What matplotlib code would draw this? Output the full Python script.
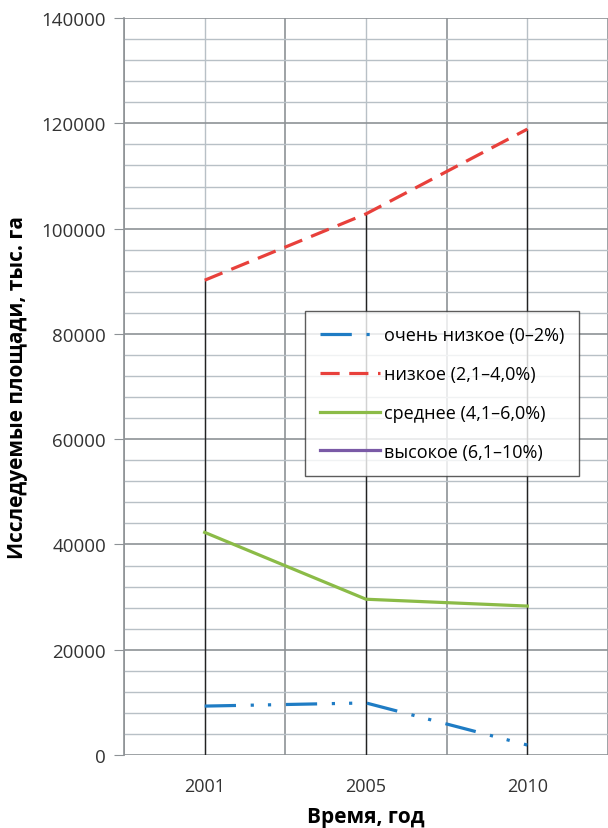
import numpy as np
import matplotlib.pyplot as plt
from matplotlib.ticker import MultipleLocator

plt.rcParams['font.family'] = ['Open Sans', 'DejaVu Sans']

# --- данные ---
years = ["2001", "2005", "2010"]
very_low = [9300, 9900, 1900]
low = [90200, 102800, 118900]
medium = [42300, 29600, 28300]
high = [np.nan, np.nan, np.nan]

labels = ["очень низкое (0–2%)", "низкое (2,1–4,0%)",
          "среднее (4,1–6,0%)", "высокое (6,1–10%)"]

fig = plt.figure(figsize=(6.08, 8.29), dpi=100)
ax = fig.add_axes([0.204, 0.088, 0.796, 0.889])
x = np.arange(len(years))

# --- сетка ---
ax.set_xlim(-0.5, 2.5)
ax.set_ylim(0, 140000)
ax.yaxis.set_major_locator(MultipleLocator(20000))
ax.yaxis.set_minor_locator(MultipleLocator(4000))
ax.grid(which="major", axis="y", color="#8e9296", lw=1.2)
ax.grid(which="minor", axis="y", color="#b8c0c6", lw=1.0)
for xb in np.arange(-0.5, 2.6, 1.0):
    ax.axvline(xb, color="#8e9296", lw=1.2, zorder=0.5)
for xc in x:
    ax.axvline(xc, color="#b8c0c6", lw=1.0, zorder=0.5)
ax.set_axisbelow(True)

# --- линии от нуля до максимума ---
tops = np.nanmax(np.vstack([very_low, low, medium]), axis=0)
ax.vlines(x, 0, tops, color="#222222", lw=1.0, zorder=1)

# --- ряды ---
lw = 2.3
ax.plot(x, very_low, color="#1f7cc4", lw=lw,
        linestyle=(0, (9.8, 4.6, 1.0, 4.4, 1.0, 4.6)), label=labels[0], zorder=3)
ax.plot(x, low, color="#e8403b", lw=lw,
        linestyle=(0, (6, 3)), label=labels[1], zorder=3)
ax.plot(x, medium, color="#8bbb47", lw=lw, label=labels[2], zorder=3)
ax.plot(x, high, color="#7a5aa6", lw=lw, label=labels[3], zorder=3)

for s in ["top", "right", "bottom"]:
    ax.spines[s].set_visible(False)
ax.spines["left"].set_color("#8e9296")
ax.spines["left"].set_linewidth(1.2)

ax.set_xticks(x)
ax.set_xticklabels(years, fontsize=13, color="#333333")
ax.tick_params(axis="x", length=0, pad=16)
ax.tick_params(axis="y", which="major", length=7, color="#8e9296",
               labelsize=13.5, labelcolor="#333333", pad=6)
ax.tick_params(axis="y", which="minor", length=0)

ax.set_xlabel("Время, год", fontsize=15, fontweight="bold", labelpad=8)
ax.set_ylabel("Исследуемые площади, тыс. га", fontsize=15,
              fontweight="bold", labelpad=10)

leg = ax.legend(loc="upper left", bbox_to_anchor=(0.374, 0.6024),
                fontsize=13, frameon=True, fancybox=False, edgecolor="#333333",
                handlelength=3.3, handletextpad=0.2, labelspacing=1.15,
                borderpad=0.85, borderaxespad=0)
leg.get_frame().set_linewidth(1.0)

fig.savefig("out.png", dpi=100)
